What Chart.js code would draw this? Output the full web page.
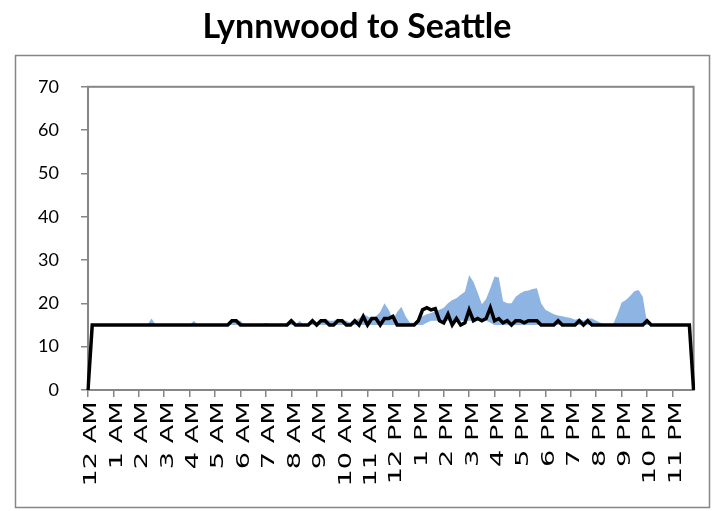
<!DOCTYPE html>
<html>
<head>
<meta charset="utf-8">
<script src="https://cdn.jsdelivr.net/npm/chart.js@4.4.1/dist/chart.umd.min.js"></script>
<style>
  html, body { margin: 0; padding: 0; background: #fff; }
  #wrap { width: 714px; height: 511px; }
</style>
</head>
<body>
<div id="wrap"><canvas id="travelChart"></canvas></div>
<script>
// hourly axis labels, one every 6 slots (10 minute slots)
const hourLabels = ['12 AM', '1 AM', '2 AM', '3 AM', '4 AM', '5 AM', '6 AM', '7 AM', '8 AM', '9 AM', '10 AM', '11 AM',
                    '12 PM', '1 PM', '2 PM', '3 PM', '4 PM', '5 PM', '6 PM', '7 PM', '8 PM', '9 PM', '10 PM', '11 PM'];
const slotsPerHour = 6;

// travel time in minutes, one row per hour
const worstTime = [
  15, 15, 15, 15, 15, 15,
  15, 15, 15, 15, 15, 15,
  15, 15, 15, 16.5, 15, 15,
  15, 15, 15, 15, 15, 15,
  15, 16, 15, 15, 15, 15,
  15, 15, 15, 15, 16, 16,
  16, 15, 15, 15, 15, 15,
  15.5, 15, 15, 15, 15, 15,
  16, 15, 16, 15, 15, 16,
  15.5, 16, 16.5, 16, 16, 16.5,
  16, 16, 15.5, 16, 16.5, 17.5,
  17, 16.5, 17, 18, 20, 18.5,
  16.2, 18, 19.2, 17, 15.5, 15.5,
  16.5, 17, 17.5, 17.8, 18.1, 18.5,
  19, 20, 20.8, 21.2, 22, 22.7,
  26.5, 25, 22.5, 19.8, 21, 23.5,
  26.2, 26, 20.5, 20, 20, 21.5,
  22.3, 22.8, 23, 23.3, 23.5, 20,
  18.5, 18, 17.5, 17.2, 17, 16.8,
  16.6, 16.2, 16.5, 16, 16.5, 16.5,
  16, 15.5, 15, 15, 15.2, 17.5,
  20.2, 20.8, 21.7, 22.8, 23.1, 21.5,
  15.5, 15, 15, 15, 15, 15,
  15, 15, 15, 15, 15, 15
];

const bestTime = [
  15, 15, 15, 15, 15, 15,
  15, 15, 15, 15, 15, 15,
  15, 15, 15, 15, 15, 15,
  15, 15, 15, 15, 15, 15,
  15, 15, 15, 15, 15, 15,
  15, 15, 15, 15, 15, 15,
  15, 15, 15, 15, 15, 15,
  15, 15, 15, 15, 15, 15,
  15, 15, 15, 15, 15, 15,
  15, 15, 15, 15, 15, 15,
  15, 15, 15, 15, 15, 15,
  15, 15, 15, 15, 15, 15,
  15, 15, 15, 15, 15, 15,
  15, 15, 15.5, 16, 16, 16,
  16, 16, 16, 16, 16, 16,
  16, 16, 16, 16, 16, 15.5,
  15, 15, 15, 15, 15, 15,
  15, 15, 15, 15, 15, 15,
  15, 15, 15, 15, 15, 15,
  15, 15, 15, 15, 15, 15,
  15, 15, 15, 15, 15, 15,
  15, 15, 15, 15, 15, 15,
  15, 15, 15, 15, 15, 15,
  15, 15, 15, 15, 15, 15
];

const todayTime = [
  0, 15, 15, 15, 15, 15,
  15, 15, 15, 15, 15, 15,
  15, 15, 15, 15, 15, 15,
  15, 15, 15, 15, 15, 15,
  15, 15, 15, 15, 15, 15,
  15, 15, 15, 15, 16, 16,
  15, 15, 15, 15, 15, 15,
  15, 15, 15, 15, 15, 15,
  16, 15, 15, 15, 15, 16,
  15, 16, 16, 15, 15, 16,
  16, 15, 15, 16, 15, 17,
  15, 16.5, 16.5, 15, 16.5, 16.5,
  17, 15, 15, 15, 15, 15,
  16, 18.5, 19, 18.5, 18.8, 16,
  15.5, 17.5, 15, 16.5, 15, 15.5,
  18.5, 16, 16.5, 16, 16.5, 19,
  16, 16.5, 15.5, 16, 15, 16,
  16, 15.5, 16, 16, 16, 15,
  15, 15, 15, 16, 15, 15,
  15, 15, 16, 15, 16, 15,
  15, 15, 15, 15, 15, 15,
  15, 15, 15, 15, 15, 15,
  16, 15, 15, 15, 15, 15,
  15, 15, 15, 15, 15, 0
];

const yMin = 0, yMax = 70, yStep = 10;

// category labels for every slot
const slots = [];
hourLabels.forEach(h => {
  for (let k = 0; k < slotsPerHour; k++) slots.push(h + ' +' + (k * 10));
});

const gray = '#868686';

// outer chart frame and plot area frame
const frames = {
  id: 'frames',
  beforeDraw(chart) {
    const ctx = chart.ctx;
    ctx.save();
    ctx.strokeStyle = gray;
    ctx.lineWidth = 1.5;
    ctx.strokeRect(15.5, 55.5, 694, 452);
    ctx.restore();
  },
  beforeDatasetsDraw(chart) {
    const ctx = chart.ctx;
    const a = chart.chartArea;
    ctx.save();
    ctx.strokeStyle = gray;
    ctx.lineWidth = 2;
    ctx.strokeRect(a.left, a.top, a.right - a.left, a.bottom - a.top);
    ctx.restore();
  }
};

// the hour labels are drawn taller than wide, so stretch them along the reading direction
const tallLabels = {
  id: 'tallLabels',
  afterLayout(chart) {
    const s = chart.scales.x;
    if (s._tall) return;
    const drawLabels = s.drawLabels.bind(s);
    s.drawLabels = function (area) {
      const ctx = this.ctx;
      ctx.save();
      ctx.translate(0, this.top);
      ctx.scale(1, 1.6);
      ctx.translate(0, -this.top);
      drawLabels(area);
      ctx.restore();
    };
    s._tall = true;
  }
};

Chart.defaults.font.family = 'Lato, "Noto Sans", sans-serif';
Chart.defaults.color = '#000';

new Chart(document.getElementById('travelChart'), {
  type: 'line',
  data: {
    labels: slots,
    datasets: [
      {
        label: 'Today',
        data: todayTime,
        borderColor: '#000',
        borderWidth: 3.5,
        pointRadius: 0,
        tension: 0,
        fill: false,
        order: 0
      },
      {
        label: 'Worst',
        data: worstTime,
        borderWidth: 0,
        borderColor: 'rgba(0,0,0,0)',
        backgroundColor: '#8db4e2',
        pointRadius: 0,
        tension: 0,
        fill: 2,
        order: 1
      },
      {
        label: 'Best',
        data: bestTime,
        borderWidth: 0,
        borderColor: 'rgba(0,0,0,0)',
        pointRadius: 0,
        tension: 0,
        fill: false,
        order: 2
      }
    ]
  },
  options: {
    responsive: true,
    maintainAspectRatio: false,
    animation: false,
    layout: { padding: { top: 0, right: 16, bottom: 0, left: 16 } },
    plugins: {
      legend: { display: false },
      tooltip: { enabled: false },
      title: {
        display: true,
        text: 'Lynnwood to Seattle',
        color: '#000',
        font: { family: 'Lato', size: 34, weight: 'bold', lineHeight: 1.2 },
        padding: { top: 7, bottom: 39 }
      }
    },
    scales: {
      x: {
        offset: false,
        border: { display: false },
        grid: {
          drawOnChartArea: false,
          tickLength: 7,
          lineWidth: 1.5,
          color: c => (c.index % slotsPerHour === 0 ? gray : 'rgba(0,0,0,0)')
        },
        ticks: {
          autoSkip: false,
          minRotation: 90,
          maxRotation: 90,
          padding: 0,
          labelOffset: 4,
          font: { family: '"DejaVu Sans"', size: 17 },
          callback: (v, i) => (i % slotsPerHour === 0 ? hourLabels[i / slotsPerHour] : '')
        },
        afterFit: s => { s.height = 121; }
      },
      y: {
        min: yMin,
        max: yMax,
        border: { display: false },
        grid: { drawOnChartArea: false, tickLength: 7, lineWidth: 1.5, color: gray },
        ticks: { stepSize: yStep, padding: 22, font: { family: 'Lato', size: 18 } },
        afterFit: s => { s.width = 72; }
      }
    }
  },
  plugins: [frames, tallLabels]
});
</script>
</body>
</html>
